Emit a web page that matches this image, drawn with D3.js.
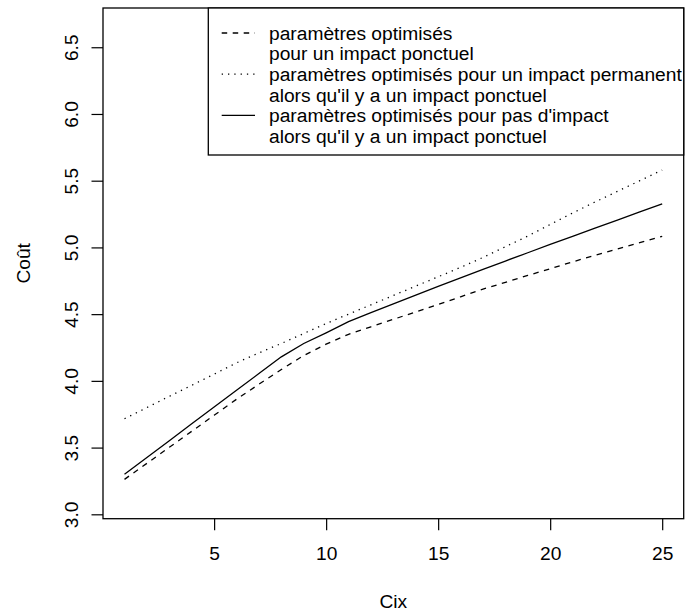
<!DOCTYPE html>
<html><head><meta charset="utf-8">
<script src="https://cdn.jsdelivr.net/npm/d3@7"></script>
<style>body{margin:0;background:#fff}svg{display:block}text{font-family:"Liberation Sans",Arial,Helvetica,sans-serif;fill:#000}</style>
</head><body>
<script>
const cix = d3.range(1, 26);
const ponctuel =   [3.262,3.382,3.502,3.622,3.742,3.862,3.975,4.085,4.19,4.275,4.349,4.405,4.461,4.517,4.573,4.63,4.688,4.738,4.79,4.84,4.892,4.94,4.988,5.035,5.083];
const permanent =  [3.716,3.80,3.884,3.967,4.05,4.135,4.21,4.28,4.355,4.43,4.50,4.57,4.64,4.71,4.78,4.85,4.925,5.005,5.085,5.172,5.258,5.34,5.42,5.50,5.58];
const pasImpact =  [3.30,3.426,3.552,3.678,3.804,3.93,4.055,4.18,4.28,4.36,4.444,4.511,4.577,4.643,4.708,4.772,4.835,4.898,4.96,5.022,5.083,5.144,5.205,5.266,5.327];
const xTicks = [5,10,15,20,25];
const yTicks = [3.0,3.5,4.0,4.5,5.0,5.5,6.0,6.5];
const legendLines = ["paramètres optimisés","pour un impact ponctuel","paramètres optimisés pour un impact permanent","alors qu'il y a un impact ponctuel","paramètres optimisés pour pas d'impact","alors qu'il y a un impact ponctuel"];
const legendDash = ["5.5,5.5", null, "1.3,5", null, "", null];
const xLabel = "Cix", yLabel = "Coût";

const W = 686, H = 612;
const L = 103, R = 683.7, T = 8, B = 518.7;
const FS = 19.2;
const svg = d3.select("body").append("svg").attr("width", W).attr("height", H);
const x = d3.scaleLinear().domain([0.04, 25.96]).range([L, R]);
const y = d3.scaleLinear().domain([2.9671, 6.7941]).range([B, T]);

const series = [
  {v: ponctuel, dash: "5.5,5.5"},
  {v: permanent, dash: "1.3,5"},
  {v: pasImpact, dash: null}
];
const line = d3.line().x((d,i)=>x(cix[i])).y(d=>y(d));
series.forEach(s => {
  svg.append("path").datum(s.v).attr("d", line).attr("fill","none")
    .attr("stroke","#000").attr("stroke-width",1.3)
    .attr("stroke-dasharray", s.dash);
});

// axes
const xAxis = d3.axisBottom(x).tickValues(xTicks).tickSize(11.5).tickPadding(10).tickFormat(d3.format("d"));
const gx = svg.append("g").attr("transform",`translate(0,${B})`).call(xAxis);
gx.select(".domain").remove();
gx.selectAll("line").attr("stroke","#000").attr("stroke-width",1.2);
gx.selectAll("text").attr("font-size",FS).attr("font-family",null).attr("y",35).attr("dy","0.35em");

const yAxis = d3.axisLeft(y).tickValues(yTicks).tickSize(11.5).tickFormat(d3.format(".1f"));
const gy = svg.append("g").attr("transform",`translate(${L},0)`).call(yAxis);
gy.select(".domain").remove();
gy.selectAll("line").attr("stroke","#000").attr("stroke-width",1.2);
gy.selectAll("text").attr("font-size",FS).attr("font-family",null)
  .attr("x",null).attr("dy",null).attr("text-anchor","middle")
  .attr("transform","translate(-31.3,0) rotate(-90)").attr("y",0).attr("dy","0.35em");

// box
svg.append("rect").attr("x",L).attr("y",T).attr("width",R-L).attr("height",B-T)
  .attr("fill","none").attr("stroke","#000").attr("stroke-width",1.3);

// labels
svg.append("text").attr("x",(L+R)/2).attr("y",601).attr("dy","0.35em").attr("text-anchor","middle").attr("font-size",FS).text(xLabel);
svg.append("text").attr("transform",`translate(23.3,${(T+B)/2}) rotate(-90)`).attr("dy","0.35em").attr("text-anchor","middle").attr("font-size",FS).text(yLabel);

// legend
const lg = svg.append("g");
lg.append("rect").attr("x",208.3).attr("y",T).attr("width",R-208.3).attr("height",155-T)
  .attr("fill","#fff").attr("stroke","#000").attr("stroke-width",1.3);
legendLines.forEach((t,i) => {
  const yy = 33 + i*20.6;
  if (legendDash[i] !== null) {
    lg.append("line").attr("x1",221.7).attr("x2",255).attr("y1",yy).attr("y2",yy)
      .attr("stroke","#000").attr("stroke-width",1.3).attr("stroke-dasharray",legendDash[i] || null);
  }
  lg.append("text").attr("x",269).attr("y",yy).attr("dy","0.35em").attr("font-size",FS).text(t);
});
</script>
</body></html>
